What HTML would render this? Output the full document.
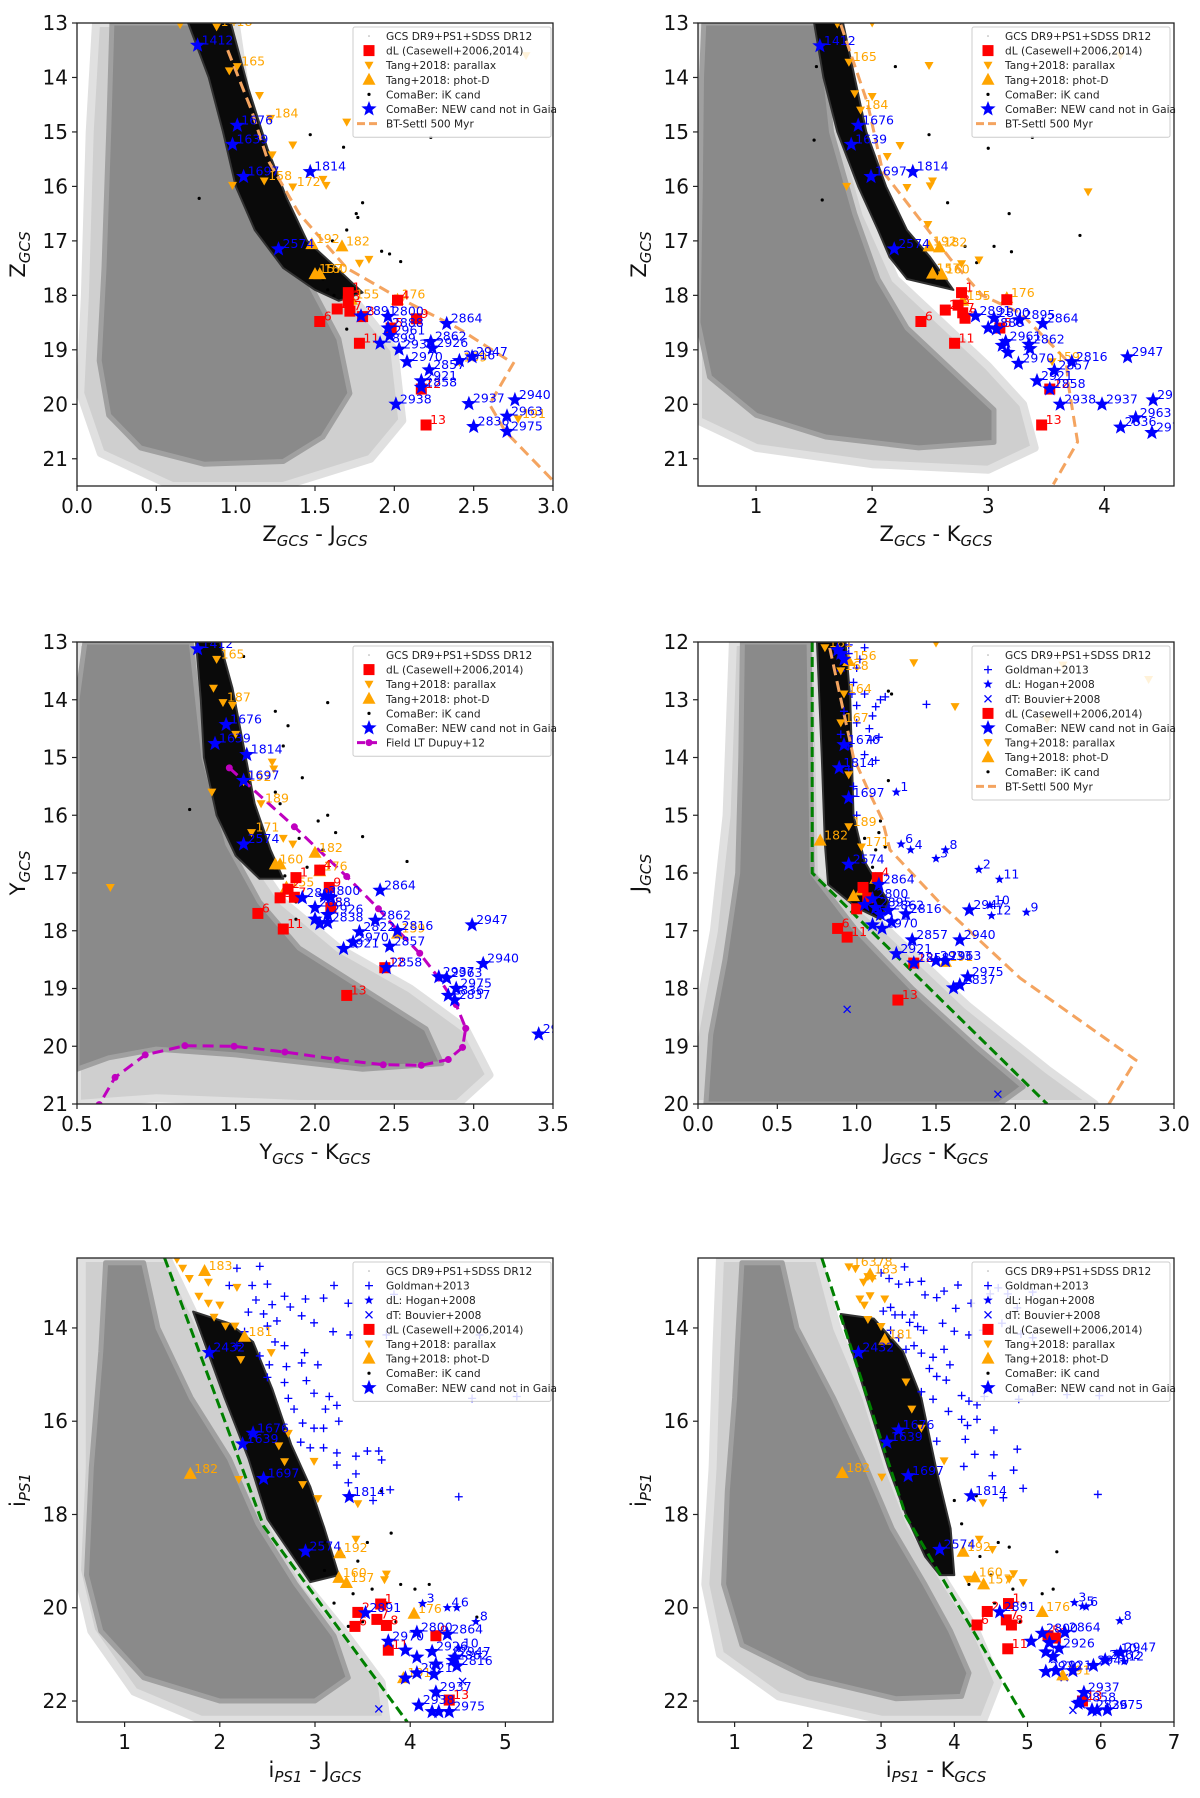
<!DOCTYPE html>
<html><head><meta charset="utf-8">
<style>
html,body{margin:0;padding:0;background:#fff;}
svg{display:block;font-family:"DejaVu Sans","Liberation Sans",sans-serif;}
</style></head>
<body>
<svg id="fig" width="1200" height="1798" viewBox="0 0 1200 1798" xmlns="http://www.w3.org/2000/svg"></svg>
<script>
// ================= DATA (data coordinates) =================
// ---- Panel 1: Z vs Z-J ----
const p1Outer=[[0.12,13],[1.0,13],[1.1,15],[1.3,16.8],[1.7,17.9],[2.0,19],[2.05,20.3],[1.85,21.0],[1.3,21.5],[0.6,21.5],[0.15,20.9],[0.02,19.8],[0.05,18],[0.08,15]];
const p1Dense=[[0.22,13],[0.95,13],[1.05,15],[1.2,16.5],[1.45,17.7],[1.65,18.8],[1.72,19.8],[1.55,20.6],[1.3,21.05],[0.8,21.1],[0.4,20.8],[0.2,20.2],[0.14,19.2],[0.17,17.5],[0.2,15]];
const p1Band=[[0.7,13],[0.83,14],[0.92,15],[1.0,16],[1.12,16.8],[1.3,17.5],[1.5,17.9],[1.65,18.1],[1.8,17.95],[1.6,17.4],[1.45,17.0],[1.32,16.2],[1.2,15.3],[1.08,14.2],[0.97,13]];
const p1Model=[[0.95,13.5],[1.1,14.6],[1.2,15.5],[1.4,16.5],[1.7,17.5],[2.0,18.0],[2.4,18.6],[2.75,19.25],[2.6,20.0],[2.7,20.5],[3.0,21.4]];
const p1Dots=[[2.23,15.1],[0.77,16.22],[1.8,16.3],[2.04,17.38],[1.97,17.24],[1.92,17.19],[1.7,18.62],[1.76,16.5],[1.77,16.57],[1.61,17.0],[1.7,16.8],[1.47,15.05],[1.68,15.28],[1.58,17.9],[1.62,18.0],[1.55,17.7]];
const p1Stars=[[0.76,13.41,'1412'],[1.01,14.88,'1676'],[0.98,15.23,'1639'],[1.05,15.82,'1697'],[1.47,15.73,'1814'],[1.27,17.15,'2574'],[1.79,18.38,'2891'],[1.96,18.39,'2800'],[1.96,18.6,'2888'],[1.97,18.74,'2961'],[2.33,18.52,'2864'],[2.23,18.85,'2862'],[2.24,18.97,'2926'],[2.03,18.99,'2933'],[1.91,18.88,'2899'],[2.08,19.22,'2970'],[2.49,19.13,'2947'],[2.41,19.2,'2816'],[2.22,19.37,'2857'],[2.17,19.57,'2921'],[2.17,19.69,'2858'],[2.01,20.0,'2938'],[2.47,19.99,'2937'],[2.76,19.92,'2940'],[2.71,20.22,'2963'],[2.5,20.41,'2836'],[2.71,20.5,'2975']];
const p1Squares=[[1.71,17.95,'1'],[1.64,18.25,'2'],[1.71,18.11,'3'],[1.72,18.29,'7'],[1.53,18.48,'6'],[2.02,18.09,'4'],[1.8,18.39,'8'],[2.14,18.43,'9'],[1.98,18.6,'5'],[1.78,18.88,'11'],[2.17,19.72,'12'],[2.2,20.38,'13']];
const p1Up=[[1.48,17.06,'192'],[1.67,17.1,'182'],[1.5,17.61,'157'],[1.53,17.61,'160'],[2.02,18.08,'176'],[1.73,18.08,'155']];
const p1Down=[[0.65,13.03,''],[0.88,13.07,'1418'],[0.96,13.88,''],[1.01,13.8,'165'],[1.15,14.33,''],[1.22,14.75,'184'],[1.7,14.82,''],[1.36,15.24,''],[1.23,15.42,''],[1.55,15.87,''],[1.57,15.98,''],[1.36,16.01,'172'],[0.98,15.98,''],[1.18,15.9,'158'],[1.78,17.41,''],[1.84,17.34,''],[2.83,13.6,''],[2.41,19.23,'159'],[2.78,20.27,'191']];

// ---- Panel 2: Z vs Z-K ----
const p2Outer=[[0.5,13],[1.65,13],[1.75,15],[1.95,16.5],[2.2,17.7],[2.6,18.5],[3.0,19.3],[3.3,20.0],[3.4,20.8],[3.0,21.2],[2.0,21.1],[1.0,20.8],[0.5,20.3]];
const p2Dense=[[0.55,13],[1.55,13],[1.65,15],[1.85,16.5],[2.05,17.7],[2.3,18.6],[2.7,19.4],[3.05,20.1],[3.05,20.7],[2.4,20.8],[1.6,20.6],[1.0,20.2],[0.6,19.5],[0.5,18.5],[0.52,16],[0.53,14]];
const p2Band=[[1.5,13],[1.58,14],[1.7,15],[1.88,16],[2.05,16.8],[2.15,17.3],[2.3,17.7],[2.7,17.9],[2.5,17.3],[2.3,16.8],[2.12,16.0],[1.95,15.0],[1.85,14.0],[1.75,13]];
const p2Model=[[1.73,13.03],[1.96,14.47],[2.09,15.72],[2.42,16.63],[2.68,17.35],[2.95,18.0],[3.28,18.33],[3.67,19.18],[3.69,19.64],[3.77,20.69],[3.56,21.47]];
const p2Dots=[[2.49,15.05],[3.38,15.1],[3.0,15.3],[3.18,16.5],[3.79,16.9],[3.05,17.1],[3.2,17.2],[2.9,17.4],[2.65,16.3],[2.8,17.1],[1.52,13.8],[1.57,16.25],[1.5,15.15],[2.2,13.8]];
const p2Stars=[[1.55,13.42,'1412'],[1.88,14.88,'1676'],[1.82,15.23,'1639'],[1.99,15.82,'1697'],[2.35,15.73,'1814'],[2.19,17.15,'2574'],[2.89,18.38,'2891'],[3.05,18.42,'2800'],[3.0,18.6,'2888'],[3.07,18.62,''],[3.47,18.52,'2864'],[3.27,18.45,'2895'],[3.35,18.9,'2862'],[3.15,18.85,'2961'],[3.12,18.92,''],[3.17,19.05,''],[3.36,18.98,''],[3.26,19.25,'2970'],[4.2,19.13,'2947'],[3.72,19.22,'2816'],[3.57,19.38,'2857'],[3.42,19.57,'2921'],[3.53,19.72,'2858'],[3.62,20.0,'2938'],[3.98,20.0,'2937'],[4.42,19.92,'2940'],[4.27,20.25,'2963'],[4.14,20.42,'2836'],[4.41,20.52,'2975']];
const p2Squares=[[2.77,17.95,'1'],[2.63,18.27,'2'],[2.74,18.18,'3'],[2.78,18.32,'7'],[2.42,18.48,'6'],[3.16,18.08,''],[2.8,18.42,'8'],[3.1,18.6,'5'],[2.71,18.88,'11'],[3.53,19.72,'12'],[3.46,20.38,'13']];
const p2Up=[[2.49,17.1,'192'],[2.58,17.12,'182'],[2.52,17.6,'157'],[2.6,17.62,'160'],[3.16,18.05,'176'],[2.78,18.1,'155']];
const p2Down=[[1.7,13.02,'156'],[2.0,13.0,''],[1.8,13.72,'165'],[2.49,13.78,''],[1.85,14.3,''],[2.0,14.35,''],[1.9,14.6,'184'],[2.24,15.25,''],[2.13,15.45,''],[2.52,15.9,''],[2.5,15.99,''],[1.78,16.0,''],[2.3,16.02,''],[3.86,16.1,''],[2.48,16.7,''],[2.77,17.42,''],[2.92,17.35,''],[3.55,19.22,'159'],[4.14,13.6,'']];

// ---- Panel 3: Y vs Y-K ----
const p3Outer=[[0.5,13],[1.3,13],[1.4,15],[1.55,16.5],[1.8,17.5],[2.15,18.3],[2.6,19.0],[2.95,19.7],[3.1,20.5],[2.9,21],[1.9,21],[1.0,20.9],[0.5,21]];
const p3Dense=[[0.55,13],[1.22,13],[1.3,15],[1.45,16.5],[1.65,17.5],[1.9,18.3],[2.3,19.0],[2.7,19.7],[2.8,20.3],[2.3,20.4],[1.5,20.15],[1.0,20.05],[0.7,20.2],[0.5,20.4],[0.5,14]];
const p3Band=[[1.25,13],[1.28,14],[1.3,15],[1.38,16],[1.5,16.7],[1.65,17.1],[1.8,17.1],[1.72,16.6],[1.62,15.8],[1.55,14.8],[1.48,13.8],[1.4,13]];
const p3FieldX=[1.46,1.87,2.2,2.4,2.52,2.66,2.78,2.89,2.95,2.93,2.84,2.67,2.43,2.14,1.81,1.49,1.18,0.93,0.74,0.64];
const p3FieldY=[15.18,16.2,17.06,17.62,17.99,18.39,18.82,19.28,19.69,20.02,20.23,20.33,20.32,20.23,20.1,20.0,19.99,20.15,20.54,21.01];
const p3Dots=[[2.08,14.05],[1.75,14.2],[1.83,14.45],[1.8,14.8],[1.92,15.35],[1.75,15.6],[1.78,15.8],[2.08,16.0],[2.02,16.1],[2.13,16.3],[2.3,16.37],[2.58,16.8],[1.9,16.4],[2.05,16.6],[1.95,16.9],[1.81,17.05],[1.88,17.5],[1.88,17.8],[1.21,15.9],[1.55,13.25]];
const p3Stars=[[1.26,13.12,'1412'],[1.44,14.43,'1676'],[1.37,14.76,'1639'],[1.57,14.95,'1814'],[1.55,15.4,'1697'],[1.55,16.5,'2574'],[2.41,17.3,'2864'],[1.92,17.43,'2891'],[2.06,17.4,'2800'],[2.1,17.42,''],[2.0,17.6,'2888'],[2.08,17.72,'2926'],[2.0,17.8,''],[2.03,17.88,''],[2.08,17.86,'2838'],[2.38,17.82,'2862'],[2.52,18.0,'2816'],[2.99,17.9,'2947'],[2.28,18.02,'2822'],[2.24,18.2,'2970'],[2.47,18.27,'2857'],[2.18,18.31,'2921'],[2.45,18.64,'2858'],[2.83,18.82,'2963'],[3.06,18.57,'2940'],[2.89,19.0,'2975'],[2.84,19.12,'2836'],[2.88,19.2,'2837'],[2.78,18.8,'2937'],[3.41,19.79,'2938']];
const p3Squares=[[1.88,17.08,'1'],[1.83,17.28,'2'],[1.78,17.43,'3'],[1.87,17.42,'7'],[2.03,16.95,'4'],[2.09,17.25,'9'],[1.64,17.7,'6'],[1.8,17.97,'11'],[2.44,18.64,'12'],[2.2,19.12,'13'],[2.1,17.6,'5']];
const p3Up=[[2.0,16.65,'182'],[1.75,16.85,'160'],[1.78,16.85,''],[2.03,16.97,'176'],[2.52,18.05,'159'],[1.82,17.25,'155']];
const p3Down=[[1.38,13.3,'165'],[1.36,13.8,''],[1.42,14.05,'187'],[1.48,14.1,''],[1.5,14.6,''],[1.73,15.08,''],[1.74,15.2,''],[1.35,15.6,''],[1.66,15.8,'189'],[1.6,16.3,'171'],[1.8,16.4,''],[1.86,16.5,''],[0.71,17.25,''],[1.55,15.42,'192']];

// ---- Panel 4: J vs J-K ----
const p4Outer=[[0.22,12],[0.75,12],[0.78,16],[1.2,17.0],[1.7,18.3],[2.2,19.4],[2.5,20],[-0.1,20],[0.0,18.5],[0.1,17],[0.18,15]];
const p4Dense=[[0.28,12],[0.7,12],[0.72,16],[1.0,17.0],[1.35,18.0],[1.75,19.0],[2.05,19.7],[1.9,20],[0.05,20],[0.08,18.8],[0.17,17.5],[0.25,16],[0.27,14]];
const p4Band=[[0.75,12],[0.78,14],[0.8,15.5],[0.82,16.2],[1.0,16.6],[1.15,16.8],[1.2,16.5],[1.05,15.8],[0.98,15],[0.96,13],[0.93,12]];
const p4Model=[[0.83,12.1],[0.98,14.0],[1.07,14.55],[1.16,15.07],[1.21,15.6],[1.55,16.59],[2.03,17.82],[2.76,19.24],[2.59,20.0]];
const p4Cut=[[0.72,12],[0.72,16.0],[2.2,20]];
const p4Dots=[[1.2,14.4],[1.15,15.1],[1.14,15.3],[1.12,15.6],[1.18,15.55],[1.1,15.9],[1.05,15.4],[1.2,12.85],[1.22,12.9]];
const p4Plus=[[0.88,12.1],[0.95,12.2],[1.02,12.3],[0.9,12.5],[0.98,12.7],[1.05,12.9],[1.15,13.0],[0.92,13.2],[1.0,13.4],[1.08,13.5],[1.1,13.28],[0.95,13.8],[1.05,13.95],[1.12,14.05],[0.98,14.5],[1.09,13.7],[1.14,13.65],[1.0,15.0],[0.95,12.05],[1.0,12.45],[1.0,13.1],[1.44,13.08],[1.18,12.95],[1.12,13.12],[0.93,12.35],[0.97,12.9],[1.05,12.1],[0.9,13.6],[0.95,14.2]];
const p4Hogan=[[1.25,14.6,'1'],[1.28,15.5,'6'],[1.34,15.6,'4'],[1.5,15.75,'3'],[1.56,15.6,'8'],[1.77,15.94,'2'],[1.9,16.11,'11'],[1.84,16.56,'10'],[1.85,16.74,'12'],[2.07,16.68,'9']];
const p4Cross=[[0.94,18.36],[1.89,19.83]];
const p4Stars=[[0.88,12.14,''],[0.92,12.3,''],[0.9,12.2,''],[0.92,13.78,'1676'],[0.89,14.18,'1814'],[0.95,14.7,'1697'],[0.95,15.85,'2574'],[1.14,16.2,'2864'],[1.1,16.45,'2800'],[1.05,16.55,''],[1.12,16.6,'2895'],[1.15,16.72,''],[1.2,16.65,'2862'],[1.31,16.71,'2816'],[1.1,16.9,''],[1.16,16.96,'2970'],[1.22,16.85,''],[1.71,16.64,'2947'],[1.65,17.16,'2940'],[1.35,17.16,'2857'],[1.25,17.4,'2921'],[1.36,17.56,'2858'],[1.5,17.52,'2933'],[1.56,17.52,'2963'],[1.7,17.8,'2975'],[1.61,17.99,''],[1.65,17.94,'2837']];
const p4Squares=[[1.13,16.08,'4'],[1.04,16.25,''],[1.07,16.43,''],[1.0,16.62,''],[0.88,16.96,'6'],[0.94,17.11,'11'],[1.36,17.56,'12'],[1.26,18.2,'13']];
const p4Up=[[0.95,12.33,'156'],[0.77,15.44,'182'],[1.03,16.3,''],[1.12,16.1,''],[0.98,16.4,''],[1.56,17.54,'191']];
const p4Down=[[0.8,12.1,'181'],[0.9,12.5,'168'],[0.92,12.9,'164'],[0.9,13.4,'167'],[0.95,14.3,''],[1.5,12.02,''],[1.36,12.36,''],[1.62,13.12,''],[2.84,12.65,''],[2.3,12.4,''],[2.2,13.35,''],[0.95,15.2,'189'],[1.03,15.55,'171']];

// ---- Panel 5: i vs i-J ----
const p5Outer=[[0.55,12.5],[1.45,12.5],[1.8,14],[2.1,15.5],[2.35,16.8],[2.55,18.2],[2.9,19.5],[3.3,20.5],[3.7,21.6],[3.75,22.4],[1.8,22.4],[1.1,21.8],[0.65,20.5],[0.5,19.2],[0.55,17],[0.55,14.5]];
const p5Dense=[[0.8,12.6],[1.2,12.6],[1.35,14],[1.7,15.5],[2.1,16.8],[2.4,18.2],[2.8,19.5],[3.2,20.6],[3.35,21.5],[3.0,22.0],[2.0,22.0],[1.2,21.5],[0.75,20.5],[0.6,19.3],[0.65,17],[0.75,14.5]];
const p5Band=[[1.72,13.65],[2.05,15.5],[2.3,16.8],[2.5,18.1],[2.7,18.7],[2.95,19.45],[3.25,19.3],[3.1,18.3],[2.95,17.4],[2.75,16.5],[2.55,15.3],[2.35,14.3],[2.1,13.9]];
const p5Cut=[[1.42,12.5],[2.46,18.25],[3.97,22.45]];
const p5Dots=[[3.2,19.9],[3.4,19.7],[3.6,19.6],[3.5,20.3],[3.3,18.9],[3.55,18.6],[3.8,18.4],[3.45,19.0],[3.9,19.5],[4.05,19.6],[4.2,19.5],[3.75,19.9],[3.1,19.2],[3.35,20.4],[3.7,17.5],[3.85,20.3],[4.7,20.2],[3.1,18.6]];
const p5Plus=[[2.18,12.72],[2.42,12.68],[2.1,13.09],[2.34,13.09],[2.5,13.06],[2.68,13.32],[2.9,13.38],[3.2,13.09],[3.09,13.36],[3.35,13.47],[2.3,13.66],[2.46,13.7],[2.74,13.55],[2.86,13.74],[2.99,13.89],[3.19,14.08],[3.37,14.15],[3.75,14.15],[2.26,14.08],[2.5,13.96],[2.58,14.3],[2.68,14.38],[2.89,14.53],[2.18,14.38],[2.42,14.6],[2.52,14.79],[2.7,14.83],[2.86,14.75],[3.03,14.79],[2.5,15.06],[2.68,15.17],[2.91,15.13],[2.99,15.4],[3.15,15.47],[3.23,15.66],[2.72,15.51],[2.78,15.74],[3.11,15.74],[3.25,16.0],[2.87,16.04],[2.99,16.15],[3.09,16.15],[2.85,16.45],[2.95,16.57],[3.09,16.57],[3.23,16.68],[3.43,16.75],[3.55,16.64],[3.67,16.64],[3.7,16.83],[3.23,16.94],[3.43,17.13],[3.35,17.32],[3.61,17.7],[3.79,17.47],[4.51,17.62],[4.65,15.51],[5.12,15.47],[3.83,13.28],[4.73,14.15],[2.38,13.4],[2.55,13.5],[2.6,13.85]];
const p5Hogan=[[4.13,19.91,'3'],[4.39,20.0,'4'],[4.49,20.0,'6'],[4.69,20.3,'8'],[4.51,20.87,'10']];
const p5Cross=[[3.67,22.17],[4.55,21.58]];
const p5Stars=[[1.89,14.53,'2432'],[2.35,16.26,'1676'],[2.24,16.49,'1639'],[2.46,17.23,'1697'],[3.36,17.62,'1814'],[2.9,18.79,'2574'],[3.53,20.11,'2891'],[4.39,20.57,'2864'],[4.07,20.53,'2800'],[3.77,20.72,'2970'],[3.95,20.91,''],[4.07,21.06,''],[4.23,20.94,'2926'],[4.47,21.06,'2947'],[4.49,21.25,'2816'],[4.27,21.21,''],[4.45,21.13,'2862'],[4.07,21.4,'2921'],[4.25,21.43,''],[3.95,21.51,''],[4.27,21.81,'2937'],[4.09,22.09,'2938'],[4.23,22.23,''],[4.41,22.23,'2975'],[4.3,22.23,'']];
const p5Squares=[[3.45,20.1,'2'],[3.69,19.92,'1'],[3.65,20.25,'7'],[3.75,20.38,'8'],[3.42,20.4,'6'],[3.77,20.91,'11'],[4.27,20.6,'9'],[4.41,21.98,'13']];
const p5Up=[[1.84,12.78,'183'],[1.69,17.13,'182'],[3.26,18.83,'192'],[3.25,19.36,'160'],[3.33,19.47,'157'],[4.04,20.13,'176'],[3.93,21.51,'191'],[2.26,14.19,'181']];
const p5Down=[[1.55,12.53,'1763'],[1.61,12.72,''],[1.68,12.94,''],[1.78,13.32,''],[1.88,13.02,''],[1.88,13.47,''],[2.0,13.51,''],[1.94,13.77,''],[2.06,13.96,''],[2.18,13.13,''],[2.16,13.96,''],[2.22,14.68,''],[2.54,14.53,''],[2.72,16.26,''],[2.62,16.53,''],[2.68,16.87,''],[2.99,16.86,''],[2.2,17.25,''],[2.87,17.36,''],[3.03,17.66,''],[3.45,17.77,''],[3.43,18.53,''],[3.75,19.28,''],[3.73,19.4,'']];

// ---- Panel 6: i vs i-K ----
const p6Outer=[[0.8,12.5],[2.15,12.5],[2.4,14],[2.8,15.5],[3.1,17],[3.4,18.2],[3.9,19.5],[4.3,20.5],[4.6,21.6],[4.4,22.4],[3.0,22.4],[1.6,21.9],[0.8,21],[0.6,19.5],[0.7,17],[0.75,14.5]];
const p6Dense=[[1.1,12.6],[1.65,12.6],[1.85,14],[2.35,15.5],[2.8,17],[3.15,18.3],[3.6,19.5],[3.95,20.5],[4.2,21.4],[4.1,21.9],[3.2,21.95],[2.0,21.5],[1.1,20.8],[0.85,19.5],[0.9,17.5],[1.0,15.5],[1.05,14]];
const p6Band=[[2.45,13.7],[2.8,15.5],[3.1,17],[3.35,18.05],[3.6,18.9],[3.8,19.3],[4.0,19.3],[3.95,18.3],[3.75,17],[3.55,15.5],[3.3,14.5],[2.9,13.8]];
const p6Cut=[[2.19,12.5],[3.34,18.04],[5.0,22.48]];
const p6Dots=[[4.2,19.5],[4.5,19.3],[4.8,19.6],[4.95,19.9],[4.6,18.6],[4.1,18.2],[4.35,18.9],[4.75,18.7],[5.2,19.7],[5.35,19.6],[4.55,19.9],[4.9,20.3],[5.4,18.8],[4.3,17.6],[4.0,17.7]];
const p6Plus=[[3.0,12.82],[3.11,12.94],[3.32,12.69],[3.24,13.06],[3.39,13.02],[3.55,13.0],[4.05,13.08],[3.76,13.35],[3.86,13.21],[3.6,13.29],[4.02,13.58],[4.23,13.47],[4.49,13.27],[4.6,13.14],[4.73,13.27],[4.86,13.57],[5.07,13.23],[3.03,13.64],[3.13,13.56],[3.19,13.72],[3.29,13.72],[3.39,13.88],[3.45,13.72],[3.5,13.97],[3.58,14.05],[3.84,13.9],[4.0,14.07],[4.2,14.15],[4.39,14.05],[4.65,13.9],[4.91,14.13],[5.07,14.21],[3.13,14.05],[3.24,14.21],[3.34,14.46],[3.45,14.38],[3.55,14.54],[3.71,14.63],[3.86,14.46],[3.94,14.79],[3.66,14.87],[3.76,15.04],[3.89,15.12],[4.1,15.45],[4.2,15.57],[4.31,15.65],[4.41,15.47],[4.88,15.53],[5.07,15.37],[5.54,15.43],[5.98,15.45],[3.55,15.37],[3.71,15.53],[3.92,15.79],[4.1,15.96],[4.31,15.96],[4.18,16.09],[4.54,16.19],[3.76,16.43],[4.15,16.39],[4.28,16.71],[4.54,16.72],[4.86,16.6],[4.52,17.17],[4.81,17.05],[4.94,17.44],[4.67,17.64],[5.96,17.57],[4.13,16.97]];
const p6Hogan=[[5.64,19.89,'3'],[5.75,19.97,'5'],[5.8,19.98,'6'],[6.26,20.28,'8'],[6.22,20.98,'10'],[6.32,21.15,'12']];
const p6Cross=[[5.5,21.5],[5.62,22.2]];
const p6Stars=[[2.69,14.53,'2432'],[3.24,16.19,'1676'],[3.08,16.45,'1639'],[3.37,17.17,'1697'],[4.23,17.6,'1814'],[3.8,18.75,'2574'],[4.62,20.09,'2891'],[5.51,20.53,'2864'],[5.2,20.55,'2800'],[5.05,20.72,''],[5.3,20.75,''],[5.43,20.87,'2926'],[5.25,20.95,''],[5.35,21.05,''],[6.06,21.12,'2862'],[6.27,20.96,'2947'],[5.9,21.24,'2940'],[5.25,21.37,'2970'],[5.39,21.35,'2921'],[5.62,21.35,''],[5.77,21.82,'2937'],[5.72,22.03,'2858'],[5.69,22.05,''],[5.88,22.19,'2836'],[6.09,22.19,'2975'],[5.95,22.2,'']];
const p6Squares=[[4.45,20.08,'2'],[4.74,19.91,'1'],[4.71,20.26,'7'],[4.78,20.37,'8'],[4.31,20.37,'6'],[4.73,20.88,'11'],[5.28,20.6,'5'],[5.38,20.65,'9'],[5.75,22.0,'13']];
const p6Up=[[2.47,17.11,'182'],[2.85,12.85,'183'],[4.12,18.8,'192'],[4.28,19.35,'160'],[4.4,19.5,'157'],[5.2,20.09,'176'],[5.48,21.45,'191'],[3.05,14.25,'181']];
const p6Down=[[2.56,12.69,'16378'],[2.65,12.73,''],[2.82,12.9,''],[2.76,13.02,''],[2.88,12.94,''],[2.71,13.38,''],[2.85,13.31,''],[2.77,13.51,''],[2.82,13.82,''],[3.0,13.97,''],[3.05,13.38,''],[3.01,17.2,''],[3.34,15.16,''],[3.42,15.74,''],[3.55,16.15,''],[3.86,16.85,''],[4.39,17.75,''],[4.34,18.53,''],[4.52,18.75,''],[4.81,19.27,''],[4.94,19.46,''],[4.75,19.39,''],[4.18,19.39,'']];

// tick label arrays
const p1XTicks=[0,0.5,1,1.5,2,2.5,3], p1YTicks=[13,14,15,16,17,18,19,20,21];
const p2XTicks=[1,2,3,4], p2YTicks=[13,14,15,16,17,18,19,20,21];
const p3XTicks=[0.5,1,1.5,2,2.5,3,3.5], p3YTicks=[13,14,15,16,17,18,19,20,21];
const p4XTicks=[0,0.5,1,1.5,2,2.5,3], p4YTicks=[12,13,14,15,16,17,18,19,20];
const p5XTicks=[1,2,3,4,5], p5YTicks=[14,16,18,20,22];
const p6XTicks=[1,2,3,4,5,6,7], p6YTicks=[14,16,18,20,22];

// ================= RENDERING =================
const NS='http://www.w3.org/2000/svg';
const svg=document.getElementById('fig');
function mk(tag,attrs,parent){const e=document.createElementNS(NS,tag);for(const k in attrs)e.setAttribute(k,attrs[k]);(parent||svg).appendChild(e);return e;}
const BLUE='#0000ff',RED='#ff0000',ORANGE='#ffa500',MODEL='#f4a460';

function starPath(cx,cy,r){let d='';for(let i=0;i<10;i++){const rr=i%2?r*0.42:r;const a=-Math.PI/2+i*Math.PI/5;d+=(i?'L':'M')+(cx+rr*Math.cos(a)).toFixed(1)+','+(cy+rr*Math.sin(a)).toFixed(1);}return d+'Z';}
function marker(g,type,x,y,color){
  let e;
  if(type==='star'){e=mk('path',{d:starPath(x,y,8),fill:color},g);}
  else if(type==='hogan'){e=mk('path',{d:starPath(x,y,5),fill:color},g);}
  else if(type==='square'){e=mk('rect',{x:x-5.5,y:y-5.5,width:11,height:11,fill:color},g);}
  else if(type==='up'){e=mk('path',{d:`M${x},${y-7}L${x+6.5},${y+5}L${x-6.5},${y+5}Z`,fill:color},g);}
  else if(type==='down'){e=mk('path',{d:`M${x-4.5},${y-3.5}L${x+4.5},${y-3.5}L${x},${y+4.5}Z`,fill:color},g);}
  else if(type==='plus'){e=mk('path',{d:`M${x-4},${y}H${x+4}M${x},${y-4}V${y+4}`,stroke:color,'stroke-width':1.3,fill:'none'},g);}
  else if(type==='cross'){e=mk('path',{d:`M${x-3.5},${y-3.5}L${x+3.5},${y+3.5}M${x-3.5},${y+3.5}L${x+3.5},${y-3.5}`,stroke:color,'stroke-width':1.3,fill:'none'},g);}
  else if(type==='dot'){e=mk('circle',{cx:x,cy:y,r:1.6,fill:color},g);}
  else if(type==='tiny'){e=mk('circle',{cx:x,cy:y,r:0.8,fill:'#aaa'},g);}
  return e;
}
function sublabel(parent,x,y,parts,rot,name){
  const t=mk('text',{x:x,y:y,'text-anchor':'middle','font-size':21,fill:'#111'},parent);
  
  
  if(rot)t.setAttribute('transform',`rotate(-90 ${x} ${y})`);
  let sub=false;
  parts.forEach(p=>{const s=mk('tspan',{},t);
    if(p[1]){s.setAttribute('font-size',15);s.setAttribute('font-style','italic');if(!sub)s.setAttribute('dy',5);sub=true;}
    else{if(sub)s.setAttribute('dy',-5);sub=false;}
    s.textContent=p[0];});
  return t;
}

function panel(c){
  const g=mk('g',{});
  
  
  const sx=v=>c.L+(v-c.x0)/(c.x1-c.x0)*(c.R-c.L);
  const sy=v=>c.T+(v-c.y0)/(c.y1-c.y0)*(c.B-c.T);
  const pts=a=>a.map(p=>sx(p[0]).toFixed(1)+','+sy(p[1]).toFixed(1)).join(' ');
  const clipId='clip-'+c.name;
  const cp=mk('clipPath',{id:clipId},g);mk('rect',{x:c.L,y:c.T,width:c.R-c.L,height:c.B-c.T},cp);
  const area=mk('g',{'clip-path':`url(#${clipId})`},g);
  
  
  const o=mk('polygon',{points:pts(c.outer),fill:'#cfcfcf',stroke:'#e0e0e0','stroke-width':8,'stroke-linejoin':'round'},area);
  
  
  const d=mk('polygon',{points:pts(c.dense),fill:'#8a8a8a',stroke:'#a0a0a0','stroke-width':5,'stroke-linejoin':'round'},area);
  
  
  const b=mk('polygon',{points:pts(c.band),fill:'#0a0a0a',stroke:'#333','stroke-width':2,'stroke-linejoin':'round'},area);
  
  
  (c.dots||[]).forEach(p=>{const e=marker(area,'dot',sx(p[0]),sy(p[1]),'#000');
    
    });
  if(c.cut){const l=mk('polyline',{points:pts(c.cut),fill:'none',stroke:'#008000','stroke-width':3,'stroke-dasharray':'10,5'},area);
    
    }
  if(c.model){const l=mk('polyline',{points:pts(c.model),fill:'none',stroke:MODEL,'stroke-width':3,'stroke-dasharray':'11,6'},area);
    
    }
  if(c.fieldX){const arr=c.fieldX.map((x,i)=>[x,c.fieldY[i]]);
    const l=mk('polyline',{points:pts(arr),fill:'none',stroke:'#bf00bf','stroke-width':3,'stroke-dasharray':'11,6'},area);
    
    
    arr.forEach(p=>{const e=mk('circle',{cx:sx(p[0]),cy:sy(p[1]),r:3.5,fill:'#bf00bf'},area);
      
      });}
  const groups=[['plus',c.plus,BLUE,'goldman-candidate'],['cross',c.cross,BLUE,'bouvier-dt'],['down',c.down,ORANGE,'tang-parallax'],['up',c.up,ORANGE,'tang-photd'],['square',c.squares,RED,'casewell-dl'],['hogan',c.hogan,BLUE,'hogan-dl'],['star',c.stars,BLUE,'new-candidate']];
  groups.forEach(gr=>{(gr[1]||[]).forEach(p=>{
    const X=sx(p[0]),Y=sy(p[1]);
    const e=marker(area,gr[0],X,Y,gr[2]);
    
    
    if(p[2]){const t=mk('text',{x:X+4,y:Y-1,'font-size':12.5,fill:gr[2]},area);
      
      
      t.textContent=p[2];}
  });});
  const fr=mk('rect',{x:c.L,y:c.T,width:c.R-c.L,height:c.B-c.T,fill:'none',stroke:'#222','stroke-width':1.3},g);
  
  
  c.xticks.forEach(v=>{const X=sx(v);mk('line',{x1:X,y1:c.B,x2:X,y2:c.B+5,stroke:'#222','stroke-width':1.2},g);
    const t=mk('text',{x:X,y:c.B+27,'text-anchor':'middle','font-size':20,fill:'#111'},g);
    
    
    t.textContent=c.xfmt?v.toFixed(1):String(v);});
  c.yticks.forEach(v=>{const Y=sy(v);mk('line',{x1:c.L-5,y1:Y,x2:c.L,y2:Y,stroke:'#222','stroke-width':1.2},g);
    const t=mk('text',{x:c.L-9,y:Y+7,'text-anchor':'end','font-size':20,fill:'#111'},g);
    
    
    t.textContent=String(v);});
  sublabel(g,(c.L+c.R)/2,c.B+55,c.xlabel,false,'x-axis-title');
  sublabel(g,c.L-52,(c.T+c.B)/2,c.ylabel,true,'y-axis-title');
  const lg=mk('g',{},g);
  
  
  const lx=c.legX,ly=c.T+4,rowH=14.6,n=c.legend.length;
  mk('rect',{x:lx,y:ly,width:198,height:n*rowH+8,fill:'#fff','fill-opacity':0.85,stroke:'#ccc','stroke-width':1,rx:2},lg);
  c.legend.forEach((en,i)=>{
    const Y=ly+9+i*rowH,MX=lx+16;
    let e;
    if(en[0]==='line'){e=mk('line',{x1:MX-12,y1:Y,x2:MX+12,y2:Y,stroke:en[2],'stroke-width':3,'stroke-dasharray':'8,4'},lg);
      if(en[3])mk('circle',{cx:MX,cy:Y,r:3.5,fill:en[2]},lg);}
    else if(en[0]==='tiny'){e=mk('circle',{cx:MX,cy:Y,r:0.8,fill:'#aaa'},lg);}
    else e=marker(lg,en[0],MX,Y,en[2]);
    
    
    const t=mk('text',{x:lx+33,y:Y+4,'font-size':10.6,fill:'#222'},lg);
    
    
    t.textContent=en[1];
  });
}

const LG={gcs:['tiny','GCS DR9+PS1+SDSS DR12'],cas:['square','dL (Casewell+2006,2014)',RED],par:['down','Tang+2018: parallax',ORANGE],phot:['up','Tang+2018: phot-D',ORANGE],ik:['dot','ComaBer: iK cand','#000'],nw:['star','ComaBer: NEW cand not in Gaia',BLUE],bt:['line','BT-Settl 500 Myr',MODEL],dup:['line','Field LT Dupuy+12','#bf00bf',true],gold:['plus','Goldman+2013',BLUE],hog:['hogan','dL: Hogan+2008',BLUE],bou:['cross','dT: Bouvier+2008',BLUE]};
const Z=[['Z',0],['GCS',1]],G=['GCS',1];

panel({name:'panel-z-vs-zj',L:77,R:553,T:23,B:486,x0:0,x1:3,y0:13,y1:21.5,xticks:p1XTicks,yticks:p1YTicks,xfmt:true,
 xlabel:[['Z',0],G,[' - J',0],G],ylabel:Z,outer:p1Outer,dense:p1Dense,band:p1Band,model:p1Model,dots:p1Dots,
 stars:p1Stars,squares:p1Squares,up:p1Up,down:p1Down,legX:353,legend:[LG.gcs,LG.cas,LG.par,LG.phot,LG.ik,LG.nw,LG.bt]});
panel({name:'panel-z-vs-zk',L:698,R:1174,T:23,B:486,x0:0.5,x1:4.6,y0:13,y1:21.5,xticks:p2XTicks,yticks:p2YTicks,
 xlabel:[['Z',0],G,[' - K',0],G],ylabel:Z,outer:p2Outer,dense:p2Dense,band:p2Band,model:p2Model,dots:p2Dots,
 stars:p2Stars,squares:p2Squares,up:p2Up,down:p2Down,legX:972,legend:[LG.gcs,LG.cas,LG.par,LG.phot,LG.ik,LG.nw,LG.bt]});
panel({name:'panel-y-vs-yk',L:77,R:553,T:642,B:1104,x0:0.5,x1:3.5,y0:13,y1:21,xticks:p3XTicks,yticks:p3YTicks,xfmt:true,
 xlabel:[['Y',0],G,[' - K',0],G],ylabel:[['Y',0],G],outer:p3Outer,dense:p3Dense,band:p3Band,fieldX:p3FieldX,fieldY:p3FieldY,dots:p3Dots,
 stars:p3Stars,squares:p3Squares,up:p3Up,down:p3Down,legX:353,legend:[LG.gcs,LG.cas,LG.par,LG.phot,LG.ik,LG.nw,LG.dup]});
panel({name:'panel-j-vs-jk',L:698,R:1174,T:642,B:1104,x0:0,x1:3,y0:12,y1:20,xticks:p4XTicks,yticks:p4YTicks,xfmt:true,
 xlabel:[['J',0],G,[' - K',0],G],ylabel:[['J',0],G],outer:p4Outer,dense:p4Dense,band:p4Band,model:p4Model,cut:p4Cut,dots:p4Dots,
 plus:p4Plus,hogan:p4Hogan,cross:p4Cross,stars:p4Stars,squares:p4Squares,up:p4Up,down:p4Down,legX:972,
 legend:[LG.gcs,LG.gold,LG.hog,LG.bou,LG.cas,LG.nw,LG.par,LG.phot,LG.ik,LG.bt]});
panel({name:'panel-i-vs-ij',L:77,R:553,T:1258,B:1722,x0:0.5,x1:5.5,y0:12.5,y1:22.45,xticks:p5XTicks,yticks:p5YTicks,
 xlabel:[['i',0],['PS1',1],[' - J',0],G],ylabel:[['i',0],['PS1',1]],outer:p5Outer,dense:p5Dense,band:p5Band,cut:p5Cut,dots:p5Dots,
 plus:p5Plus,hogan:p5Hogan,cross:p5Cross,stars:p5Stars,squares:p5Squares,up:p5Up,down:p5Down,legX:353,
 legend:[LG.gcs,LG.gold,LG.hog,LG.bou,LG.cas,LG.par,LG.phot,LG.ik,LG.nw]});
panel({name:'panel-i-vs-ik',L:698,R:1174,T:1258,B:1722,x0:0.5,x1:7,y0:12.5,y1:22.45,xticks:p6XTicks,yticks:p6YTicks,
 xlabel:[['i',0],['PS1',1],[' - K',0],G],ylabel:[['i',0],['PS1',1]],outer:p6Outer,dense:p6Dense,band:p6Band,cut:p6Cut,dots:p6Dots,
 plus:p6Plus,hogan:p6Hogan,cross:p6Cross,stars:p6Stars,squares:p6Squares,up:p6Up,down:p6Down,legX:972,
 legend:[LG.gcs,LG.gold,LG.hog,LG.bou,LG.cas,LG.par,LG.phot,LG.ik,LG.nw]});
</script>
</body></html>
